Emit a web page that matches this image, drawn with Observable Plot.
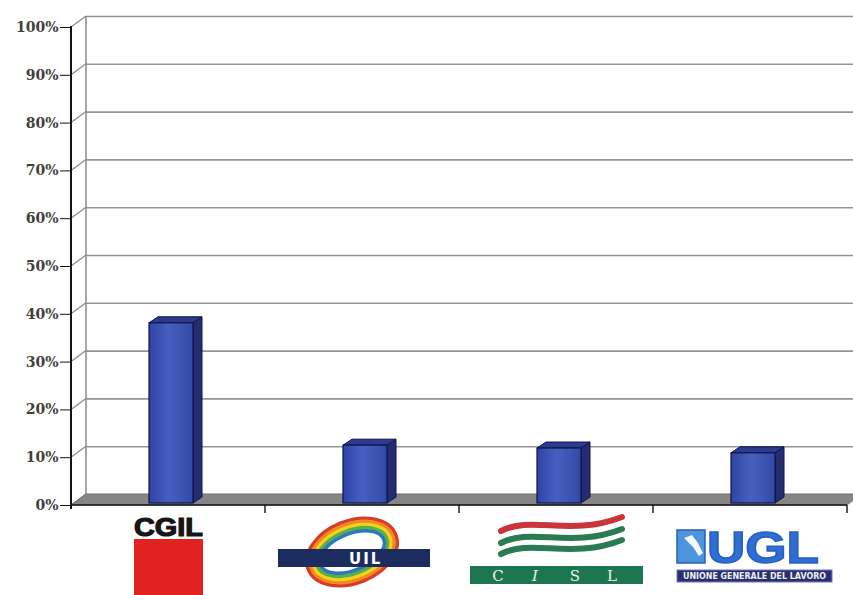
<!DOCTYPE html>
<html>
<head>
<meta charset="utf-8">
<script src="https://cdn.jsdelivr.net/npm/d3@7"></script>
<script src="https://cdn.jsdelivr.net/npm/@observablehq/plot@0.6"></script>
<style>
  html, body { margin: 0; padding: 0; background: #fff; }
</style>
</head>
<body>
<div id="chart"></div>
<script>
// ---- data ----
const categories = ["CGIL", "UIL", "CISL", "UGL"];
const shares = [0.377, 0.121, 0.115, 0.105];
const yTicks = [0, 0.1, 0.2, 0.3, 0.4, 0.5, 0.6, 0.7, 0.8, 0.9, 1];
const yTickLabels = ["0%", "10%", "20%", "30%", "40%", "50%", "60%", "70%", "80%", "90%", "100%"];
const cislLetters = ["C", "I", "S", "L"];
const uglSubtitle = "UNIONE GENERALE DEL LAVORO";

const data = categories.map((c, i) => ({union: c, share: shares[i]}));

// ---- 3D styling constants ----
const WALL_DX = 15, WALL_DY = -11;   // depth of back wall
const BAR_DX = 9, BAR_DY = -6;       // depth of each bar
const BAR_LIFT = -2;                 // bars sit slightly behind front edge
const INSET_L = 78, INSET_R = 72;    // bar width inside band

function bandInfo(x) {
  const x0 = x(categories[0]);
  const bw = x(categories[1]) - x0;
  return {x0, bw};
}

function defsMark() {
  const svg = d3.create("svg:g");
  const defs = svg.append("defs");
  const g = defs.append("linearGradient").attr("id", "barGrad").attr("x1", 0).attr("x2", 1).attr("y1", 0).attr("y2", 0);
  g.append("stop").attr("offset", "0%").attr("stop-color", "#2f44a2");
  g.append("stop").attr("offset", "45%").attr("stop-color", "#4760bf");
  g.append("stop").attr("offset", "100%").attr("stop-color", "#3349a6");
  return svg.node();
}

function sceneMark(index, scales, values, dims) {
  const {x, y} = scales;
  const {width, marginLeft, marginRight} = dims;
  const left = marginLeft, right = width - marginRight;
  const g = d3.create("svg:g");
  const y0 = y(0), yTop = y(1);
  g.append("line").attr("x1", left + WALL_DX).attr("x2", left + WALL_DX)
    .attr("y1", yTop + WALL_DY).attr("y2", y0 + WALL_DY)
    .attr("stroke", "#8a8a8a").attr("stroke-width", 1.5);
  for (const t of yTicks) {
    g.append("line").attr("x1", left).attr("y1", y(t))
      .attr("x2", left + WALL_DX).attr("y2", y(t) + WALL_DY)
      .attr("stroke", "#8a8a8a").attr("stroke-width", 1.2);
  }
  g.append("path")
    .attr("d", `M${left},${y0} L${left + WALL_DX},${y0 + WALL_DY} L${right + WALL_DX},${y0 + WALL_DY} L${right},${y0} Z`)
    .attr("fill", "#858585").attr("stroke", "#6d6d6d").attr("stroke-width", 0.8);
  return g.node();
}

function axesMark(index, scales, values, dims) {
  const {x, y} = scales;
  const {width, marginLeft, marginRight} = dims;
  const left = marginLeft, right = width - marginRight;
  const {x0, bw} = bandInfo(x);
  const g = d3.create("svg:g").attr("stroke", "#111");
  g.append("line").attr("x1", left).attr("x2", left).attr("y1", y(1) - 1).attr("y2", y(0) + 4).attr("stroke-width", 2);
  g.append("line").attr("x1", left).attr("x2", right).attr("y1", y(0)).attr("y2", y(0)).attr("stroke-width", 1.6);
  for (let i = 1; i <= categories.length; i++) {
    const xx = x0 + i * bw;
    g.append("line").attr("x1", xx).attr("x2", xx).attr("y1", y(0)).attr("y2", y(0) + 8).attr("stroke-width", 1.4);
  }
  return g.node();
}

function barFacesMark(index, scales) {
  const {x, y} = scales;
  const {bw} = bandInfo(x);
  const g = d3.create("svg:g").attr("stroke", "#10154a").attr("stroke-width", 1).attr("stroke-linejoin", "round");
  for (const d of data) {
    const L = x(d.union) + INSET_L, R = x(d.union) + bw - INSET_R;
    const T = y(d.share) + BAR_LIFT, B = y(0) + BAR_LIFT;
    g.append("path").attr("d", `M${R},${T} L${R + BAR_DX},${T + BAR_DY} L${R + BAR_DX},${B + BAR_DY} L${R},${B} Z`).attr("fill", "#242d72");
    g.append("path").attr("d", `M${L},${T} L${L + BAR_DX},${T + BAR_DY} L${R + BAR_DX},${T + BAR_DY} L${R},${T} Z`).attr("fill", "#2d3a8e");
  }
  return g.node();
}

function logosMark(index, scales, values, dims) {
  const {x, y} = scales;
  const {bw} = bandInfo(x);
  const cx = c => x(c) + bw / 2;
  const base = y(0);
  const g = d3.create("svg:g").attr("text-anchor", "start");

  // CGIL
  {
    const c = cx("CGIL");
    g.append("text").attr("x", c - 34).attr("y", base + 31).attr("textLength", 69).attr("lengthAdjust", "spacingAndGlyphs")
      .attr("font-family", "Liberation Sans, Arial, sans-serif").attr("font-weight", 900).attr("font-size", 25)
      .attr("fill", "#161616").attr("stroke", "#161616").attr("stroke-width", 1.2).text("CGIL");
    g.append("rect").attr("x", c - 34).attr("y", base + 34).attr("width", 69).attr("height", 60).attr("fill", "#e2221f");
  }
  // UIL
  {
    const c = cx("UIL") - 8;
    const cy = base + 47;
    const ring = g.append("g").attr("transform", `translate(${c - 2},${cy}) rotate(-22)`);
    const cols = ["#d93a2b", "#f08a1f", "#f2d21c", "#5bb043", "#2a78c2"];
    cols.forEach((col, i) => {
      ring.append("ellipse").attr("rx", 47 - i * 3.2).attr("ry", 31 - i * 3.2)
        .attr("fill", "none").attr("stroke", col).attr("stroke-width", 3.6);
    });
    ring.append("ellipse").attr("rx", 30).attr("ry", 15).attr("fill", "#fff");
    g.append("rect").attr("x", c - 76).attr("y", base + 44).attr("width", 152).attr("height", 18).attr("fill", "#1c2c5e");
    g.append("text").attr("x", c - 5).attr("y", base + 59).attr("font-family", "DejaVu Sans, sans-serif").attr("font-weight", "bold")
      .attr("font-size", 15).attr("fill", "#fff").attr("letter-spacing", 2).text("UIL");
  }
  // CISL
  {
    const c = cx("CISL");
    const waves = [
      {dy: 22, col: "#c9353b"},
      {dy: 34, col: "#2b7b52"},
      {dy: 45, col: "#2b7b52"}
    ];
    for (const w of waves) {
      const yy = base + w.dy;
      g.append("path")
        .attr("d", `M${c - 55},${yy + 4} C${c - 25},${yy - 12} ${c + 15},${yy + 10} ${c + 66},${yy - 10}`)
        .attr("fill", "none").attr("stroke", w.col).attr("stroke-width", 6).attr("stroke-linecap", "round");
    }
    g.append("rect").attr("x", c - 86).attr("y", base + 61).attr("width", 173).attr("height", 18).attr("fill", "#1d7552");
    const xs = [-58, -21, 19, 56];
    cislLetters.forEach((l, i) => {
      g.append("text").attr("x", c + xs[i]).attr("y", base + 76).attr("text-anchor", "middle")
        .attr("font-family", "DejaVu Serif, serif").attr("font-style", i === 1 ? "italic" : "normal")
        .attr("font-size", 15).attr("fill", "#eef6ef").text(l);
    });
  }
  // UGL
  {
    const c = cx("UGL") + 4;
    g.append("rect").attr("x", c - 77).attr("y", base + 25).attr("width", 28).attr("height", 33)
      .attr("fill", "#4c94dc").attr("stroke", "#2a5fae").attr("stroke-width", 1.5);
    g.append("path").attr("d", `M${c - 70},${base + 33} l8,-3 l6,8 l5,10 l-4,3 l-6,-9 Z`).attr("fill", "#f4f7fb");
    g.append("text").attr("x", c - 47).attr("y", base + 58).attr("textLength", 112).attr("lengthAdjust", "spacingAndGlyphs")
      .attr("font-family", "Liberation Sans, Arial, sans-serif").attr("font-weight", "bold")
      .attr("font-size", 44).attr("fill", "#2e6fd4").attr("stroke", "#2a5fbf").attr("stroke-width", 1.5).text("UGL");
    g.append("rect").attr("x", c - 77).attr("y", base + 65).attr("width", 155).attr("height", 12)
      .attr("fill", "#2b2f72").attr("stroke", "#6e7bc0").attr("stroke-width", 1);
    g.append("text").attr("x", c - 71).attr("y", base + 74).attr("textLength", 143).attr("lengthAdjust", "spacingAndGlyphs")
      .attr("font-family", "DejaVu Sans, sans-serif").attr("font-weight", "bold").attr("font-size", 8)
      .attr("fill", "#f0f0f0").text(uglSubtitle);
  }
  return g.node();
}

const chart = Plot.plot({
  width: 853,
  height: 595,
  marginLeft: 71,
  marginRight: 6,
  marginTop: 27,
  marginBottom: 90,
  style: {background: "#fff", overflow: "visible", fontFamily: "DejaVu Serif, serif"},
  x: {type: "band", domain: categories, padding: 0, axis: null},
  y: {domain: [0, 1], axis: null},
  marks: [
    defsMark,
    Plot.ruleY(yTicks, {dx: WALL_DX, dy: WALL_DY, stroke: "#959595", strokeWidth: 1.6}),
    sceneMark,
    barFacesMark,
    Plot.barY(data, {
      x: "union", y: "share",
      fill: "url(#barGrad)", stroke: "#10154a", strokeWidth: 1.2,
      insetLeft: INSET_L, insetRight: INSET_R, dy: BAR_LIFT
    }),
    axesMark,
    Plot.axisY(yTicks, {
      tickFormat: (d) => yTickLabels[yTicks.indexOf(d)],
      tickSize: 11, tickPadding: 2, stroke: "#111",
      fill: "#404040", fontSize: 14, fontWeight: "bold", fontFamily: "DejaVu Serif, serif", label: null
    }),
    logosMark
  ]
});
document.getElementById("chart").appendChild(chart);
</script>
</body>
</html>
